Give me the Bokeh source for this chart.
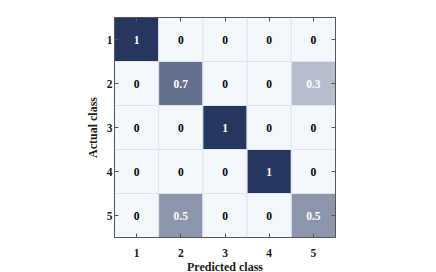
from bokeh.plotting import figure
from bokeh.models import ColumnDataSource, LinearAxis, FixedTicker, Range1d, CustomLabelingPolicy
from bokeh.embed import file_html
from bokeh.resources import INLINE
from bokeh.core.properties import value

classes = [1, 2, 3, 4, 5]
matrix = [
    [1, 0, 0, 0, 0],
    [0, 0.7, 0, 0, 0.3],
    [0, 0, 1, 0, 0],
    [0, 0, 0, 1, 0],
    [0, 0.5, 0, 0, 0.5],
]
x_label = "Predicted class"
y_label = "Actual class"

low = (244, 247, 252)
high = (38, 54, 94)

def cmap(v):
    r, g, b = (int(round(l + (h - l) * v)) for l, h in zip(low, high))
    return "#%02x%02x%02x" % (r, g, b)

xs, ys, vals, cols, tcols, labels = [], [], [], [], [], []
for i, row in enumerate(matrix):
    for j, v in enumerate(row):
        xs.append(classes[j])
        ys.append(classes[i])
        vals.append(v)
        cols.append(cmap(v))
        tcols.append("white" if v > 0 else "black")
        labels.append(("%g" % v))

src = ColumnDataSource(dict(x=xs, y=ys, v=vals, c=cols, tc=tcols, t=labels))

FONT = "Liberation Serif"

p = figure(frame_width=221, frame_height=220, output_backend="svg", toolbar_location=None,
           x_range=Range1d(0.5, 5.5), y_range=Range1d(5.5, 0.5),
           min_border_left=114, min_border_right=80, min_border_top=17, min_border_bottom=30)
p.rect(x="x", y="y", width=1, height=1, source=src, fill_color="c",
       line_color="#dfe5ee", line_width=1)
p.text(x="x", y="y", text="t", source=src, text_color="tc",
       text_align="center", text_baseline="middle",
       text_font=value(FONT), text_font_style="bold", text_font_size="11.5px")

p.grid.visible = False
p.outline_line_color = "#555555"

hide = CustomLabelingPolicy(code="const ids = [...indices.ones()]; for (const i of ids) indices.unset(i); return indices;")

def style(ax, show_labels):
    ax.ticker = FixedTicker(ticks=classes)
    ax.major_tick_in = 4
    ax.major_tick_out = 0
    ax.minor_tick_line_color = None
    ax.axis_line_color = "#555555"
    ax.major_tick_line_color = "#555555"
    ax.major_label_text_font = FONT
    ax.major_label_text_font_style = "bold"
    ax.major_label_text_font_size = "11.5px"
    ax.major_label_text_color = "#1a1a1a"
    ax.major_label_standoff = 4
    ax.axis_label_text_font = FONT
    ax.axis_label_text_font_style = "bold"
    ax.axis_label_text_font_size = "12px"
    ax.axis_label_text_color = "#1a1a1a"
    ax.axis_label_standoff = 2
    if not show_labels:
        ax.major_label_policy = hide

style(p.xaxis[0], True)
style(p.yaxis[0], True)
p.xaxis[0].axis_label = x_label
p.xaxis[0].major_label_standoff = 11
p.xaxis[0].axis_label_standoff = 0
p.yaxis[0].axis_label = y_label
p.yaxis[0].major_label_standoff = 2
p.yaxis[0].axis_label_standoff = 4
p.yaxis[0].major_label_orientation = 0

top = LinearAxis()
style(top, False)
p.add_layout(top, "above")
right = LinearAxis()
style(right, False)
p.add_layout(right, "right")

open("out.html", "w").write(file_html(p, INLINE))
